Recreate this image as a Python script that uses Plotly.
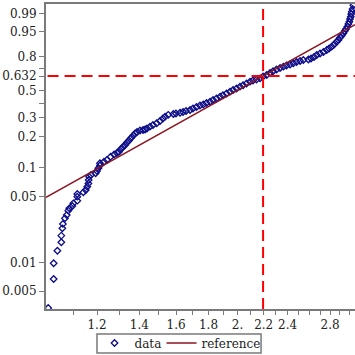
import numpy as np
import plotly.graph_objects as go

# ---- data ----
data_x = [1.005, 1.025, 1.025, 1.039, 1.054, 1.054, 1.058, 1.060, 1.068, 1.075,
          1.081, 1.085, 1.097, 1.101, 1.117, 1.117, 1.117, 1.142, 1.152, 1.158,
          1.163, 1.164, 1.166, 1.174, 1.194, 1.200, 1.206, 1.213, 1.213, 1.231,
          1.244, 1.261, 1.277, 1.290, 1.300, 1.309, 1.319, 1.329, 1.338, 1.348,
          1.358, 1.369, 1.378, 1.388, 1.403, 1.419, 1.429, 1.439, 1.455, 1.471,
          1.491, 1.509, 1.525, 1.537, 1.555, 1.584, 1.599, 1.623, 1.641, 1.659,
          1.683, 1.701, 1.723, 1.745, 1.766, 1.787, 1.810, 1.830, 1.853, 1.877,
          1.897, 1.922, 1.946, 1.968, 1.993, 2.018, 2.041, 2.067, 2.093, 2.116,
          2.143, 2.171, 2.195, 2.224, 2.251, 2.276, 2.305, 2.335, 2.363, 2.390,
          2.421, 2.450, 2.479, 2.511, 2.541, 2.588, 2.613, 2.642, 2.668, 2.700,
          2.734, 2.767, 2.790, 2.817, 2.841, 2.867, 2.886, 2.904, 2.922, 2.939,
          2.954, 2.968, 2.982, 2.993, 3.004, 3.011, 3.019, 3.024, 3.030, 3.039,
          3.048]
data_p = [0.00329, 0.00672, 0.00987, 0.01343, 0.0165, 0.0194, 0.0232, 0.0258, 0.0296, 0.0320,
          0.0356, 0.0377, 0.0399, 0.0425, 0.0453, 0.0499, 0.0532, 0.0554, 0.0585, 0.0633,
          0.0684, 0.0743, 0.0803, 0.0836, 0.0870, 0.0918, 0.0979, 0.1044, 0.1100, 0.1141,
          0.1187, 0.1280, 0.1346, 0.1393, 0.1435, 0.1526, 0.1597, 0.1670, 0.1767, 0.1846,
          0.1952, 0.2062, 0.2155, 0.2226, 0.2300, 0.2324, 0.2349, 0.2400, 0.2493, 0.2585,
          0.2680, 0.2812, 0.2960, 0.3071, 0.3192, 0.3245, 0.3276, 0.3324, 0.3376, 0.3445,
          0.3512, 0.3617, 0.3724, 0.3833, 0.3908, 0.4021, 0.4120, 0.4252, 0.4371, 0.4515,
          0.4631, 0.4779, 0.4929, 0.5075, 0.5205, 0.5361, 0.5485, 0.5644, 0.5808, 0.5914,
          0.6005, 0.6112, 0.6277, 0.6413, 0.6593, 0.6747, 0.6907, 0.7041, 0.7156, 0.7263,
          0.7347, 0.7453, 0.7564, 0.7646, 0.7730, 0.7771, 0.7854, 0.7975, 0.8131, 0.8246,
          0.8357, 0.8499, 0.8603, 0.8724, 0.8862, 0.9007, 0.9118, 0.9243, 0.9335, 0.9429,
          0.9516, 0.9586, 0.9655, 0.9727, 0.9778, 0.9829, 0.9865, 0.9900, 0.9924, 0.9945,
          0.9967]

weibull_shape = 3.79
weibull_scale = 2.195

y_tick_probs = [0.005, 0.01, 0.05, 0.1, 0.2, 0.3, 0.4, 0.5, 0.632, 0.7, 0.8, 0.95, 0.99]
y_tick_text = ["0.005", "0.01", "0.05", "0.1", "0.2", "0.3", "", "0.5", "0.632", "", "0.8", "0.95", "0.99"]
x_tick_vals = [1.1, 1.2, 1.3, 1.4, 1.5, 1.6, 1.7, 1.8, 1.9, 2.0, 2.1, 2.2, 2.3, 2.4,
               2.5, 2.6, 2.7, 2.8, 2.9, 3.0]
x_tick_text = ["", "1.2", "", "1.4", "", "1.6", "", "1.8", "", "2.", "", "2.2", "", "2.4",
               "", "", "", "2.8", "", ""]

x_range = [0.9969, 3.066]
y_range_t = [-5.739, 1.773]


def wt(p):
    p = np.asarray(p, dtype=float)
    return np.log(-np.log(1.0 - p))


FONT = "DejaVu Serif"
AXIS_COL = "#7a7a7a"
DATA_COL = "#0c0c88"

fig = go.Figure()

fig.add_trace(go.Scatter(
    x=data_x, y=wt(data_p), mode="markers", name="data", legendwidth=22,
    marker=dict(symbol="diamond-open", size=5, color=DATA_COL,
                line=dict(width=1.3, color=DATA_COL)),
))

ref_x = np.array(x_range)
ref_y = weibull_shape * (np.log(ref_x) - np.log(weibull_scale))
fig.add_trace(go.Scatter(
    x=ref_x, y=ref_y, mode="lines", name="reference", legendwidth=55,
    line=dict(color="#8c1420", width=1.5),
))

# dashed guide lines
fig.add_shape(type="line", xref="x", yref="paper", x0=weibull_scale, x1=weibull_scale,
              y0=0, y1=0.995, line=dict(color="#ff0000", width=2, dash="11px,6px"), layer="above")
fig.add_shape(type="line", xref="paper", yref="y", x0=0.005, x1=1,
              y0=float(wt(1 - np.exp(-1))), y1=float(wt(1 - np.exp(-1))),
              line=dict(color="#ff0000", width=2, dash="11px,6px"), layer="above")
# legend frame
fig.add_shape(type="rect", xref="paper", yref="paper", x0=0.165, x1=0.696,
              y0=-0.144, y1=-0.082, line=dict(color=AXIS_COL, width=1.5),
              fillcolor="rgba(0,0,0,0)")

fig.update_xaxes(
    type="log", range=[np.log10(x_range[0]), np.log10(x_range[1])],
    tickmode="array", tickvals=x_tick_vals, ticktext=x_tick_text,
    ticks="outside", ticklen=4, tickwidth=1, tickcolor=AXIS_COL,
    showline=True, linecolor=AXIS_COL, linewidth=2, mirror=True,
    showgrid=False, zeroline=False,
    tickfont=dict(family=FONT, size=12, color="#222222"),
)
fig.update_yaxes(
    range=y_range_t,
    tickmode="array", tickvals=list(wt(y_tick_probs)), ticktext=y_tick_text,
    ticks="outside", ticklen=5, tickwidth=1, tickcolor=AXIS_COL,
    showline=True, linecolor=AXIS_COL, linewidth=2, mirror=False,
    showgrid=False, zeroline=False,
    tickfont=dict(family=FONT, size=12, color="#222222"),
)

fig.update_layout(
    width=355, height=355,
    margin=dict(l=46, r=0, t=4, b=46, autoexpand=False),
    plot_bgcolor="white", paper_bgcolor="white",
    showlegend=True,
    legend=dict(orientation="h", x=0.157, y=-0.1115, xanchor="left", yanchor="middle",
                borderwidth=0, bgcolor="rgba(0,0,0,0)",
                font=dict(family=FONT, size=12, color="#222222"),
                itemwidth=30, tracegroupgap=0),
)

fig.write_html("out.html", config={"displayModeBar": False},
               post_script="document.body.style.margin='0';document.body.style.overflow='hidden';")
